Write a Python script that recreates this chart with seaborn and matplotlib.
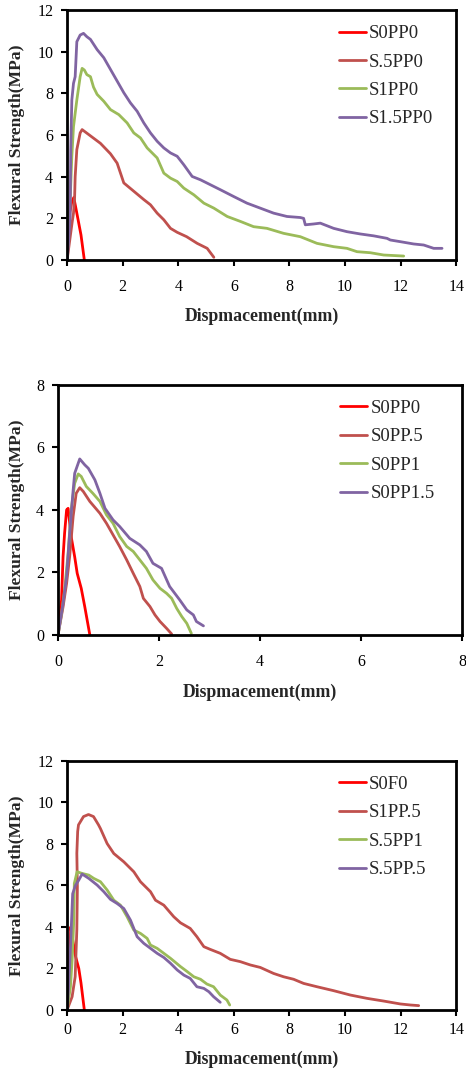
import pandas as pd
import matplotlib.pyplot as plt
import seaborn as sns

# ---- data (displacement mm, flexural strength MPa) ----
# panel 1
a_s0pp0_x = [0, 0.05, 0.1, 0.17, 0.24, 0.3, 0.4, 0.5, 0.62]
a_s0pp0_y = [0, 1.4, 2.3, 2.8, 3.0, 2.6, 1.9, 1.2, 0]
a_s5pp0_x = [0, 0.1, 0.18, 0.23, 0.27, 0.29, 0.35, 0.47, 0.54, 0.7, 1.0, 1.2, 1.56, 1.8, 2.04, 2.4,
             2.76, 3.0, 3.24, 3.48, 3.72, 3.96, 4.3, 4.68, 5.04, 5.28]
a_s5pp0_y = [0, 1.0, 1.8, 2.25, 3.0, 4.0, 5.3, 6.1, 6.26, 6.1, 5.8, 5.6, 5.1, 4.65, 3.7, 3.3,
             2.9, 2.65, 2.25, 1.93, 1.52, 1.33, 1.12, 0.8, 0.56, 0.13]
a_s1pp0_x = [0, 0.06, 0.11, 0.17, 0.23, 0.35, 0.47, 0.54, 0.62, 0.71, 0.84, 0.95, 1.08, 1.32, 1.56,
             1.86, 2.16, 2.4, 2.64, 2.88, 3.24, 3.48, 3.72, 3.96, 4.2, 4.56, 4.92, 5.28, 5.76,
             6.24, 6.71, 7.19, 7.79, 8.39, 8.99, 9.59, 10.07, 10.43, 10.91, 11.39, 12.11]
a_s1pp0_y = [0, 1.5, 2.9, 4.96, 6.4, 7.68, 8.8, 9.2, 9.12, 8.9, 8.8, 8.3, 7.95, 7.62, 7.22,
             6.98, 6.58, 6.1, 5.86, 5.38, 4.9, 4.17, 3.93, 3.77, 3.45, 3.13, 2.73, 2.49, 2.09,
             1.85, 1.6, 1.52, 1.28, 1.12, 0.8, 0.64, 0.56, 0.4, 0.35, 0.24, 0.19]
a_s15pp0_x = [0, 0.05, 0.11, 0.13, 0.17, 0.23, 0.29, 0.35, 0.47, 0.59, 0.71, 0.84, 1.08, 1.32, 1.56,
              1.8, 2.04, 2.28, 2.52, 2.76, 3.0, 3.24, 3.48, 3.72, 3.96, 4.2, 4.5, 4.8, 5.16, 5.52,
              5.99, 6.47, 6.95, 7.43, 7.91, 8.39, 8.51, 8.57, 8.87, 9.11, 9.59, 10.07, 10.55,
              11.03, 11.51, 11.63, 11.99, 12.47, 12.83, 13.19, 13.49]
a_s15pp0_y = [0, 0.8, 2.08, 5.28, 7.68, 8.48, 8.8, 10.48, 10.8, 10.88, 10.72, 10.59, 10.1, 9.71, 9.15,
              8.59, 8.03, 7.54, 7.14, 6.58, 6.1, 5.7, 5.38, 5.14, 4.98, 4.57, 4.01, 3.85, 3.61, 3.37,
              3.05, 2.73, 2.49, 2.25, 2.09, 2.04, 2.0, 1.69, 1.73, 1.77, 1.52, 1.36, 1.25,
              1.16, 1.04, 0.96, 0.88, 0.77, 0.72, 0.56, 0.56]

# panel 2
b_s0pp0_x = [0, 0.07, 0.1, 0.13, 0.17, 0.2, 0.26, 0.33, 0.38, 0.46, 0.53, 0.63]
b_s0pp0_y = [0, 1.12, 2.5, 3.25, 4.0, 4.05, 3.15, 2.5, 1.97, 1.49, 0.9, 0]
b_s0pp5_x = [0, 0.1, 0.17, 0.23, 0.3, 0.36, 0.43, 0.5, 0.63, 0.83, 0.96, 1.09, 1.22, 1.36, 1.49,
             1.62, 1.69, 1.82, 1.92, 2.02, 2.15, 2.25]
b_s0pp5_y = [0, 0.9, 1.65, 2.5, 3.8, 4.53, 4.71, 4.59, 4.27, 3.89, 3.57, 3.2, 2.83, 2.4, 1.97,
             1.55, 1.17, 0.91, 0.64, 0.43, 0.21, 0.03]
b_s0pp1_x = [0, 0.07, 0.13, 0.2, 0.26, 0.33, 0.4, 0.46, 0.56, 0.69, 0.83, 0.96, 1.09, 1.22, 1.36,
             1.49, 1.62, 1.75, 1.88, 2.02, 2.15, 2.25, 2.35, 2.45, 2.55, 2.64]
b_s0pp1_y = [0, 0.69, 1.44, 2.61, 4.0, 4.85, 5.15, 5.07, 4.75, 4.53, 4.27, 3.84, 3.57, 3.15, 2.83,
             2.67, 2.4, 2.13, 1.76, 1.49, 1.33, 1.17, 0.85, 0.59, 0.37, 0.05]
b_s0pp15_x = [0, 0.1, 0.17, 0.23, 0.3, 0.33, 0.43, 0.53, 0.6, 0.73, 0.83, 0.93, 1.09, 1.22, 1.42,
              1.62, 1.75, 1.88, 2.05, 2.21, 2.41, 2.55, 2.68, 2.74, 2.88]
b_s0pp15_y = [0, 1.01, 1.87, 3.25, 4.64, 5.17, 5.63, 5.44, 5.33, 4.96, 4.53, 4.05, 3.68, 3.47, 3.09,
              2.88, 2.67, 2.29, 2.13, 1.55, 1.12, 0.8, 0.64, 0.43, 0.29]

# panel 3
c_s0f0_x = [0, 0.06, 0.1, 0.13, 0.2, 0.3, 0.42, 0.5, 0.62]
c_s0f0_y = [0, 1.3, 2.7, 4.0, 3.4, 2.6, 2.0, 1.3, 0]
c_s1pp5_x = [0, 0.18, 0.29, 0.35, 0.37, 0.35, 0.38, 0.41, 0.59, 0.77, 0.95, 1.13, 1.2, 1.44, 1.68,
             2.04, 2.4, 2.64, 3.0, 3.18, 3.48, 3.84, 4.08, 4.43, 4.67, 4.92, 5.15, 5.51, 5.87,
             6.23, 6.59, 6.95, 7.43, 7.79, 8.15, 8.51, 8.99, 9.59, 10.19, 10.79, 11.39, 11.99,
             12.35, 12.65]
c_s1pp5_y = [0, 0.64, 1.6, 3.86, 5.94, 7.55, 8.6, 8.92, 9.32, 9.42, 9.32, 8.92, 8.74, 8.02, 7.54,
             7.14, 6.66, 6.18, 5.7, 5.29, 5.05, 4.49, 4.2, 3.93, 3.53, 3.05, 2.92, 2.73, 2.44,
             2.33, 2.17, 2.05, 1.76, 1.6, 1.48, 1.28, 1.12, 0.93, 0.72, 0.56, 0.43, 0.29,
             0.24, 0.21]
c_s5pp1_x = [0, 0.12, 0.18, 0.24, 0.26, 0.36, 0.54, 0.78, 0.96, 1.2, 1.44, 1.68, 1.92, 2.16, 2.4,
             2.64, 2.88, 3.0, 3.24, 3.48, 3.72, 4.08, 4.32, 4.56, 4.8, 5.03, 5.27, 5.51, 5.75, 5.85]
c_s5pp1_y = [0, 1.12, 2.4, 4.33, 6.1, 6.66, 6.58, 6.5, 6.34, 6.18, 5.78, 5.29, 5.05, 4.49, 3.85,
             3.69, 3.45, 3.13, 2.97, 2.73, 2.49, 2.09, 1.85, 1.6, 1.48, 1.25, 1.12, 0.72, 0.48, 0.24]
c_s5pp5_x = [0, 0.05, 0.12, 0.2, 0.3, 0.42, 0.54, 0.78, 1.08, 1.32, 1.56, 1.8, 2.04, 2.28, 2.52,
             2.76, 3.0, 3.24, 3.48, 3.72, 3.96, 4.2, 4.43, 4.67, 4.92, 5.1, 5.27, 5.51]
c_s5pp5_y = [0, 1.0, 3.0, 5.6, 6.0, 6.26, 6.55, 6.34, 6.02, 5.7, 5.33, 5.13, 4.89, 4.33, 3.53,
             3.21, 2.97, 2.73, 2.53, 2.25, 1.93, 1.68, 1.52, 1.12, 1.04, 0.88, 0.64, 0.37]

panels = [
    {'series': [('S0PP0', a_s0pp0_x, a_s0pp0_y), ('S.5PP0', a_s5pp0_x, a_s5pp0_y),
                ('S1PP0', a_s1pp0_x, a_s1pp0_y), ('S1.5PP0', a_s15pp0_x, a_s15pp0_y)],
     'lim': 14, 'ylim': 12, 'pos': [0.144, 0.7588, 0.835, 0.2319],
     'xlabel_y': -0.19, 'ylabel_x': -0.108, 'xpad': 10},
    {'series': [('S0PP0', b_s0pp0_x, b_s0pp0_y), ('S0PP.5', b_s0pp5_x, b_s0pp5_y),
                ('S0PP1', b_s0pp1_x, b_s0pp1_y), ('S0PP1.5', b_s0pp15_x, b_s0pp15_y)],
     'lim': 8, 'ylim': 8, 'pos': [0.1245, 0.411, 0.867, 0.232],
     'xlabel_y': -0.194, 'ylabel_x': -0.082, 'xpad': 10},
    {'series': [('S0F0', c_s0f0_x, c_s0f0_y), ('S1PP.5', c_s1pp5_x, c_s1pp5_y),
                ('S.5PP1', c_s5pp1_x, c_s5pp1_y), ('S.5PP.5', c_s5pp5_x, c_s5pp5_y)],
     'lim': 14, 'ylim': 12, 'pos': [0.144, 0.0631, 0.835, 0.231],
     'xlabel_y': -0.163, 'ylabel_x': -0.108, 'xpad': 5},
]
colors = ['#FF0000', '#C0504D', '#9BBB59', '#8064A2']

sns.set_style('ticks')
plt.rcParams['font.family'] = ['Liberation Serif', 'DejaVu Serif']

fig = plt.figure(figsize=(4.66, 10.78), dpi=100)

for p in panels:
    ax = fig.add_axes(p['pos'])
    rows = []
    for name, xs, ys in p['series']:
        for x, y in zip(xs, ys):
            rows.append({'Series': name, 'x': x, 'y': y})
    df = pd.DataFrame(rows)
    names = [s[0] for s in p['series']]
    sns.lineplot(data=df, x='x', y='y', hue='Series', hue_order=names,
                 palette=colors, sort=False, estimator=None, linewidth=2.0, ax=ax)

    ax.set_xlim(0, p['lim'])
    ax.set_ylim(0, p['ylim'])
    ax.set_xticks(range(0, p['lim'] + 1, 2))
    ax.set_yticks(range(0, p['ylim'] + 1, 2))
    for sp in ax.spines.values():
        sp.set_visible(True)
        sp.set_linewidth(2)
        sp.set_color('black')
    ax.tick_params(axis='both', direction='out', length=4, width=1.5, labelsize=11.5,
                   colors='black', top=False, right=False)
    ax.tick_params(axis='x', pad=p['xpad'])
    ax.tick_params(axis='y', pad=6)
    ax.set_xlabel('Dispmacement(mm)', fontsize=12.8, fontweight='bold')
    ax.set_ylabel('Flexural Strength(MPa)', fontsize=12.6, fontweight='bold')
    ax.xaxis.set_label_coords(0.5, p['xlabel_y'])
    ax.yaxis.set_label_coords(p['ylabel_x'], 0.5)
    ax.legend(loc='upper left', bbox_to_anchor=(0.68, 0.97), frameon=False, fontsize=13.5,
              handlelength=1.45, handletextpad=0.15, labelspacing=0.6, borderaxespad=0)

fig.savefig('out.png', dpi=100)
